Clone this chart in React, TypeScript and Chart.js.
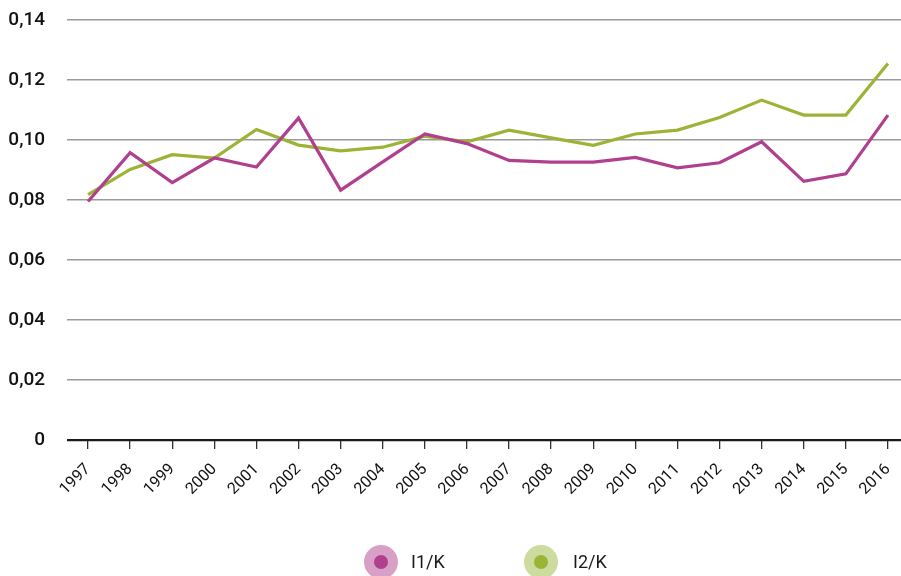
import React, { useEffect, useRef } from "react";
import { Chart, registerables } from "chart.js";

Chart.register(...registerables);

const years = ["1997","1998","1999","2000","2001","2002","2003","2004","2005","2006","2007","2008","2009","2010","2011","2012","2013","2014","2015","2016"];
const i1k = [0.0795, 0.0958, 0.0858, 0.094, 0.091, 0.1073, 0.0833, 0.0927, 0.102, 0.0988, 0.0932, 0.0926, 0.0926, 0.0942, 0.0907, 0.0924, 0.0994, 0.0862, 0.0887, 0.1083];
const i2k = [0.0818, 0.0902, 0.0951, 0.094, 0.1035, 0.0983, 0.0964, 0.0976, 0.1013, 0.0994, 0.1033, 0.1007, 0.0982, 0.102, 0.1033, 0.1075, 0.1133, 0.1083, 0.1083, 0.1255];
const seriesNames = ["I1/K", "I2/K"];
const seriesColors = ["#b03f8e", "#9bb436"];
const seriesLight = ["#d9a0c7", "#cbdc9e"];
const yTicks = { min: 0, max: 0.14, step: 0.02 };

const FONT = "Roboto, 'Liberation Sans', Arial, sans-serif";

const legendPlugin = {
  id: "customLegend",
  afterDraw(chart: any) {
    const ctx = chart.ctx;
    const items = [
      { cx: 381, tx: 411 },
      { cx: 541, tx: 573 },
    ];
    const cy = 562;
    ctx.save();
    items.forEach((it, i) => {
      ctx.beginPath();
      ctx.fillStyle = seriesLight[i];
      ctx.arc(it.cx, cy, 17, 0, Math.PI * 2);
      ctx.fill();
      ctx.beginPath();
      ctx.fillStyle = seriesColors[i];
      ctx.arc(it.cx, cy, 7, 0, Math.PI * 2);
      ctx.fill();
      ctx.fillStyle = "#1a1a1a";
      ctx.font = `18px ${FONT}`;
      ctx.textAlign = "left";
      ctx.textBaseline = "middle";
      ctx.fillText(seriesNames[i], it.tx, cy + 1);
    });
    ctx.restore();
  },
};

export default function App() {
  const ref = useRef<HTMLCanvasElement | null>(null);
  useEffect(() => {
    if (!ref.current) return;
    const mk = (arr: number[]) => arr.map((v, i) => ({ x: i, y: v }));
    const chart = new Chart(ref.current, {
      type: "line",
      data: {
        datasets: [
          { label: seriesNames[0], data: mk(i1k), borderColor: seriesColors[0], borderWidth: 3.2, pointRadius: 0, tension: 0, fill: false },
          { label: seriesNames[1], data: mk(i2k), borderColor: seriesColors[1], borderWidth: 3.2, pointRadius: 0, tension: 0, fill: false },
        ],
      },
      options: {
        responsive: false,
        animation: false,
        layout: { autoPadding: false, padding: { top: 20, right: 0, bottom: 0, left: 0 } },
        plugins: { legend: { display: false }, tooltip: { enabled: false } },
        scales: {
          x: {
            type: "linear",
            min: -0.5,
            max: 19.31,
            afterFit: (s: any) => {
              s.height = 136;
              s.paddingLeft = 0; s.paddingRight = 0; s.paddingTop = 0; s.paddingBottom = 0;
            },
            border: { display: false },
            grid: { drawOnChartArea: false, drawTicks: true, tickLength: 9, color: "#333", lineWidth: 1.3 },
            ticks: {
              stepSize: 1,
              includeBounds: false,
              autoSkip: false,
              minRotation: 45,
              maxRotation: 45,
              padding: 11,
              color: "#111",
              font: { family: FONT, size: 16 },
              callback: (v: any) => {
                const i = Math.round(Number(v));
                return Math.abs(Number(v) - i) < 1e-6 && i >= 0 && i < years.length ? years[i] : "";
              },
            },
          },
          y: {
            min: yTicks.min,
            max: yTicks.max,
            afterFit: (s: any) => {
              s.width = 67;
              s.paddingLeft = 0; s.paddingRight = 0; s.paddingTop = 0; s.paddingBottom = 0;
            },
            border: { display: false },
            grid: {
              drawTicks: false,
              color: (c: any) => (c.tick && Math.abs(c.tick.value) < 1e-9 ? "#1a1a1a" : "#9a9a9a"),
              lineWidth: (c: any) => (c.tick && Math.abs(c.tick.value) < 1e-9 ? 2.2 : 1.4),
            },
            ticks: {
              stepSize: yTicks.step,
              padding: 22,
              color: "#111",
              font: { family: FONT, size: 19, weight: "500" },
              callback: (v: any) => (Math.abs(Number(v)) < 1e-9 ? "0" : Number(v).toFixed(2).replace(".", ",")),
            },
          },
        },
      },
      plugins: [legendPlugin],
    } as any);
    return () => chart.destroy();
  }, []);
  return (
    <div style={{ position: "fixed", left: 0, top: 0, width: 901, height: 576, background: "#fff" }}>
      <canvas ref={ref} width={901} height={576} style={{ display: "block" }} />
    </div>
  );
}
